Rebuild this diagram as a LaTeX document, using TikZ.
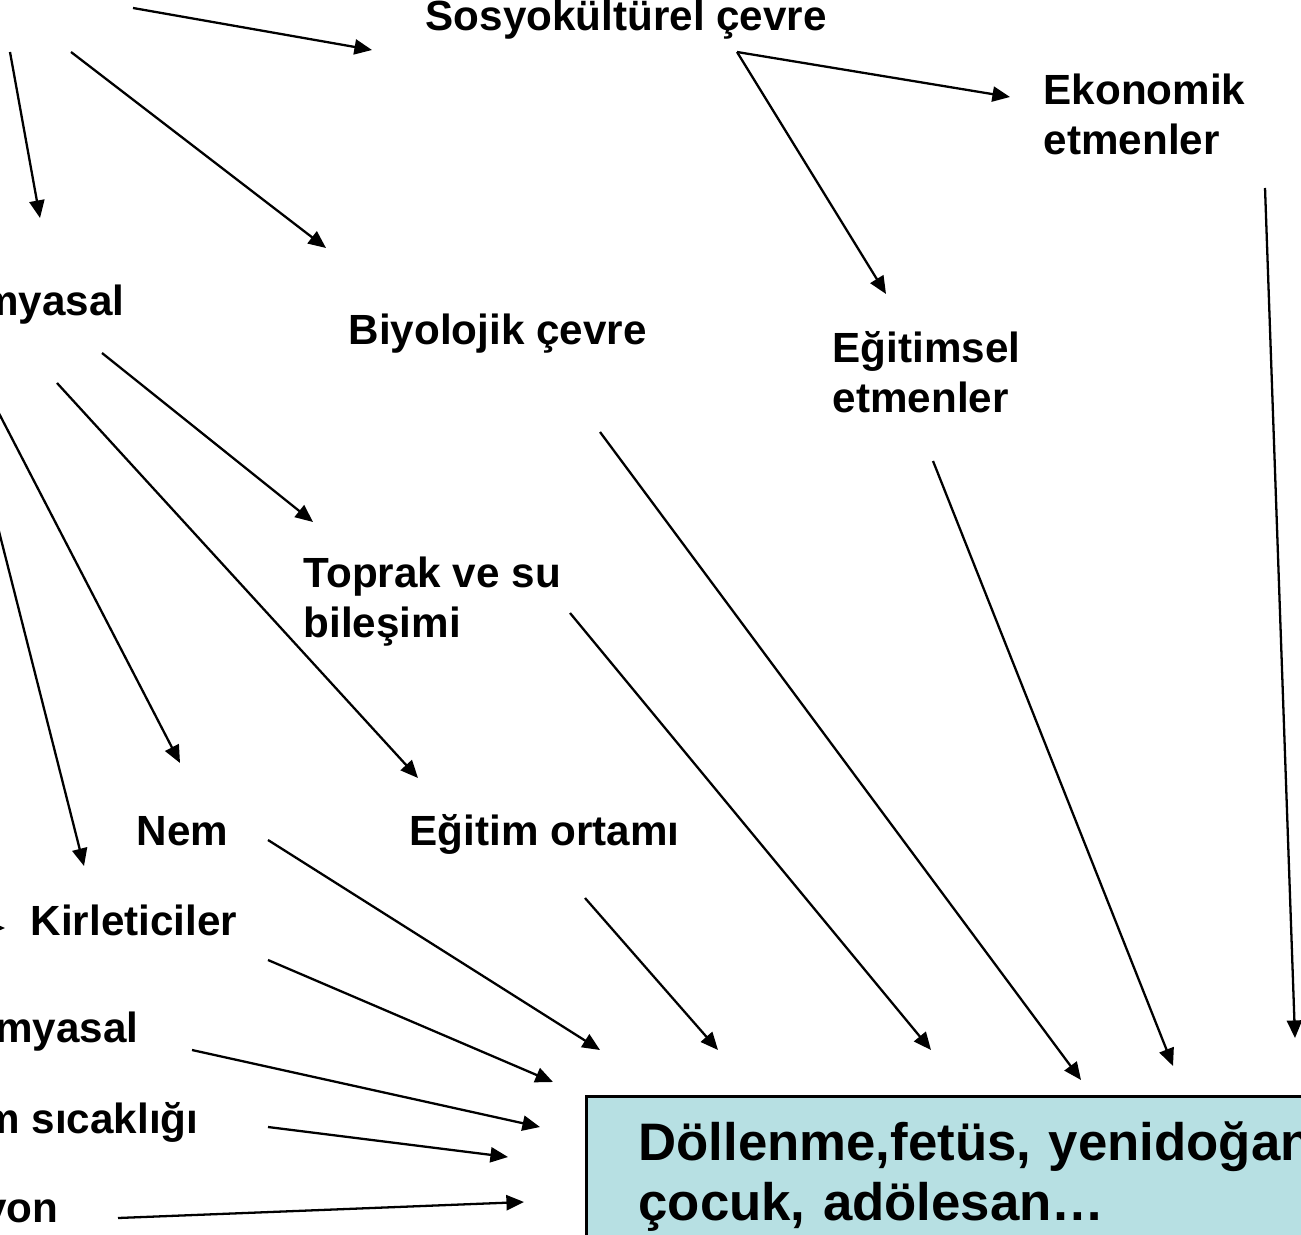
\documentclass[tikz,border=0pt]{standalone}
\usepackage{fontspec}
\setmainfont{Liberation Sans}
\usetikzlibrary{arrows.meta}
\definecolor{boxblue}{HTML}{B7E0E3}

\begin{document}
\begin{tikzpicture}[
    x=0.01cm, y=-0.01cm,
    factor/.style={inner sep=0pt, align=left, font=\bfseries\fontsize{12pt}{14.2pt}\selectfont},
    stagebox/.style={draw=black, line width=0.8pt, fill=boxblue, text width=8cm, align=left, inner xsep=0.52cm, inner ysep=0.25cm, font=\bfseries\fontsize{15pt}{17pt}\selectfont},
    arrow/.style={line width=0.65pt, -{Triangle[length=5pt,width=4.3pt]}},
]
    \useasboundingbox (0,0) rectangle (1301,1234);
    \clip (0,0) rectangle (1301,1234);
    \coordinate (topleft) at (0,0);

    % factors
    \node (sosyo) [factor, anchor=base west] at (425,31) {Sosyokültürel çevre};
    \node (ekon) [factor, anchor=north west] at (1043,73) {Ekonomik\\etmenler};
    \node (kim1) [factor, anchor=base east] at (125,316) {myasal};
    \node (biyo) [factor, anchor=base west] at (348,345) {Biyolojik çevre};
    \node (egts) [factor, anchor=north west] at (832,331) {Eğitimsel\\etmenler};
    \node (toprak) [factor, anchor=north west] at (303,556) {Toprak ve su\\bileşimi};
    \node (nem) [factor, anchor=base west] at (136,845) {Nem};
    \node (egor) [factor, anchor=base west] at (409,845) {Eğitim ortamı};
    \node (kirl) [factor, anchor=base west] at (30,935) {Kirleticiler};
    \node (kim2) [factor, anchor=base east] at (139,1042) {myasal};
    \node (sicak) [factor, anchor=base east] at (199,1133) {m sıcaklığı};
    \node (rad) [factor, anchor=base east] at (59,1222) {yon};

    % development stages
    \node (stage) [stagebox, anchor=north west] at (585,1095) {Döllenme,fetüs, yenidoğan\\çocuk, adölesan…};

    % from the parent outside the frame
    \draw [arrow] ([shift={(133,8)}]topleft) -- ([shift={(-53,19)}]sosyo.base west);
    \draw [arrow] ([shift={(10,52)}]topleft) -- ([shift={(-85,-98)}]kim1.base east);
    \draw [arrow] ([shift={(71,52)}]topleft) -- ([shift={(-22,-97)}]biyo.base west);

    % sosyokültürel
    \draw [arrow] ([shift={(312,21)}]sosyo.base west) -- ([shift={(-33,24)}]ekon.north west);
    \draw [arrow] ([shift={(312,21)}]sosyo.base west) -- ([shift={(54,-37)}]egts.north west);

    % kimyasal
    \draw [arrow] ([shift={(-23,37)}]kim1.base east) -- ([shift={(10,-34)}]toprak.north west);
    \draw [arrow] ([shift={(-68,67)}]kim1.base east) -- ([shift={(9,-67)}]egor.base west);
    \draw [arrow] ([shift={(-135,80)}]kim1.base east) -- ([shift={(44,-82)}]nem.base west);
    \draw [arrow] ([shift={(-135,180)}]kim1.base east) -- ([shift={(54,-69)}]kirl.base west);
    \draw [arrow] ([shift={(-90,-7)}]kirl.base west) -- ([shift={(-25,-7)}]kirl.base west);

    % into the box
    \draw [arrow] ([shift={(132,-5)}]nem.base west) -- ([shift={(15,-45)}]stage.north west);
    \draw [arrow] ([shift={(238,25)}]kirl.base west) -- ([shift={(-32,-13)}]stage.north west);
    \draw [arrow] ([shift={(53,8)}]kim2.base east) -- ([shift={(-45,32)}]stage.north west);
    \draw [arrow] ([shift={(69,-6)}]sicak.base east) -- ([shift={(-77,62)}]stage.north west);
    \draw [arrow] ([shift={(59,-4)}]rad.base east) -- ([shift={(-61,107)}]stage.north west);
    \draw [arrow] ([shift={(176,53)}]egor.base west) -- ([shift={(133,-45)}]stage.north west);
    \draw [arrow] ([shift={(267,57)}]toprak.north west) -- ([shift={(346,-45)}]stage.north west);
    \draw [arrow] ([shift={(252,87)}]biyo.base west) -- ([shift={(496,-15)}]stage.north west);
    \draw [arrow] ([shift={(101,130)}]egts.north west) -- ([shift={(588,-29)}]stage.north west);
    \draw [arrow] ([shift={(222,115)}]ekon.north west) -- ([shift={(710,-57)}]stage.north west);

\end{tikzpicture}
\end{document}
